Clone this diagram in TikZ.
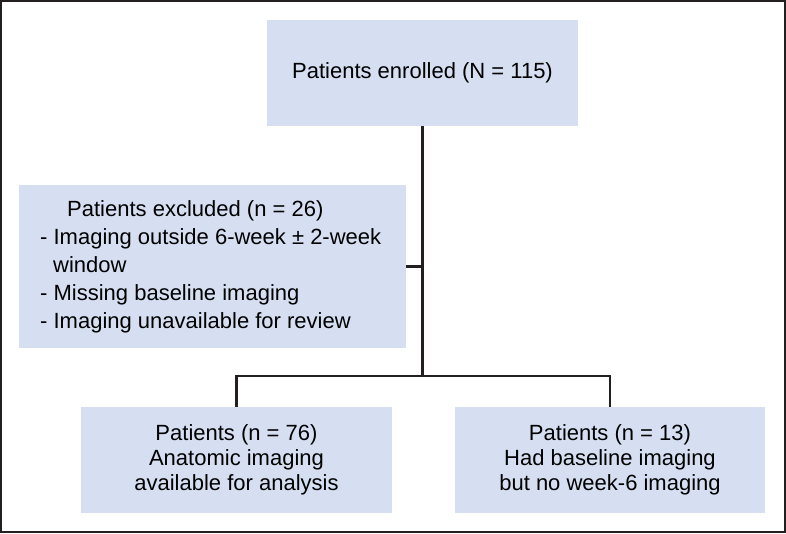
\documentclass[tikz,border=0pt]{standalone}
\usepackage{fontspec}
\setmainfont{Liberation Sans}
\definecolor{boxfill}{RGB}{214,223,241}
\definecolor{linecol}{RGB}{35,31,32}
\begin{document}
\begin{tikzpicture}[x=1pt,y=-1pt,
  flowbox/.style={fill=boxfill, draw=none, inner sep=0pt, align=center,
    font=\fontsize{22}{25}\selectfont},
  conn/.style={draw=linecol, line width=2.4pt}]
\useasboundingbox (0,0) rectangle (786,533);
\draw[draw=linecol, line width=2pt] (1,1) rectangle (785,532);
\node[flowbox, minimum width=311, minimum height=106] (top) at (422.5,73) {Patients enrolled (N = 115)};
\node[flowbox, minimum width=387, minimum height=163] (excl) at (212.5,266.5) {};
\node[inner sep=0pt, anchor=west, align=left,
  font=\fontsize{22}{28}\selectfont] (excltext) at (40,267)
  {\hspace*{27pt}Patients excluded (n = 26)\\
   - Imaging outside 6-week ± 2-week\\
   \hspace*{13pt}window\\
   - Missing baseline imaging\\
   - Imaging unavailable for review};
\node[flowbox, minimum width=311, minimum height=106] (left) at (236.5,460)
  {Patients (n = 76)\\Anatomic imaging\\available for analysis};
\node[flowbox, minimum width=310, minimum height=106] (right) at (610,460)
  {Patients (n = 13)\\Had baseline imaging\\but no week-6 imaging};
\coordinate (j) at (422.5,376);
\draw[conn] (top.south) -- (j);
\draw[conn] (excl.east) -- (excl.east -| top.south);
\draw[conn] (left.north) |- (j) -| (right.north);
\end{tikzpicture}
\end{document}
